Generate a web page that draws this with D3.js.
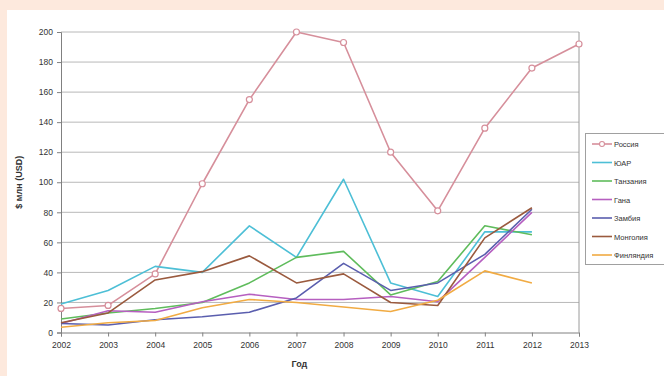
<!DOCTYPE html>
<html>
<head>
<meta charset="utf-8">
<script src="https://cdn.jsdelivr.net/npm/d3@7"></script>
<style>
  html, body { margin: 0; padding: 0; background: #fde9dd; }
  svg { display: block; }
  text { font-family: "Liberation Sans", Arial, sans-serif; fill: #333; }
</style>
</head>
<body>
<svg id="chart" width="664" height="376"></svg>
<script>
// Years on the category axis
const years = [2002, 2003, 2004, 2005, 2006, 2007, 2008, 2009, 2010, 2011, 2012, 2013];
const yTicks = [0, 20, 40, 60, 80, 100, 120, 140, 160, 180, 200];

// Series values, $ млн (USD); null = no data
const russia    = [16, 18, 39, 99, 155, 200, 193, 120, 81, 136, 176, 192];
const southAfr  = [19, 28, 44, 40, 71, 50, 102, 33, 24, 67, 67, null];
const tanzania  = [9, 13, 16, 20, 33, 50, 54, 25, 34, 71, 65, null];
const ghana     = [6, 14.5, 13.5, 20.5, 25.5, 22, 22, 24, 20.5, 50, 80, null];
const zambia    = [6, 5, 8.5, 10.5, 13.5, 23, 46, 28, 33, 52, 82, null];
const mongolia  = [6.5, 13, 35, 40.5, 51, 33, 39, 20, 18, 63, 83, null];
const finland   = [3.5, 6.5, 8, 16.5, 22, 20, 17, 14, 21.5, 41, 33, null];

const seriesNames  = ["Россия", "ЮАР", "Танзания", "Гана", "Замбия", "Монголия", "Финляндия"];
const seriesValues = [russia, southAfr, tanzania, ghana, zambia, mongolia, finland];
const seriesColors = ["#d68f9b", "#4dbfd6", "#5fbc5c", "#b65fc0", "#5a5eae", "#9a5a3e", "#f1ab43"];

const svg = d3.select("#chart");

// white panel
svg.append("rect").attr("x", 7).attr("y", 10).attr("width", 657).attr("height", 366).attr("fill", "#ffffff");

const plotLeft = 61, plotRight = 579, plotTop = 32, plotBottom = 332.5;

const x = d3.scalePoint().domain(years).range([plotLeft, plotRight]);
const y = d3.scaleLinear().domain([0, 200]).range([plotBottom, plotTop]);

// horizontal gridlines
svg.append("g")
  .selectAll("line")
  .data(yTicks.filter(d => d > 0))
  .join("line")
  .attr("x1", plotLeft).attr("x2", plotRight)
  .attr("y1", d => y(d)).attr("y2", d => y(d))
  .attr("stroke", "#b8b8b8").attr("stroke-width", 1);

// right frame edge
svg.append("line")
  .attr("x1", plotRight).attr("x2", plotRight).attr("y1", plotTop).attr("y2", plotBottom)
  .attr("stroke", "#9a9a9a").attr("stroke-width", 1);

// y axis
const yAxis = svg.append("g")
  .attr("transform", `translate(${plotLeft},0)`)
  .call(d3.axisLeft(y).tickValues(yTicks).tickSize(4).tickPadding(4));
yAxis.select(".domain").attr("stroke", "#808080");
yAxis.selectAll(".tick line").attr("stroke", "#808080");
yAxis.selectAll(".tick text").attr("font-size", 8.5).attr("fill", "#333");

// x axis
const xAxis = svg.append("g")
  .attr("transform", `translate(0,${plotBottom})`)
  .call(d3.axisBottom(x).tickSize(4).tickPadding(5));
xAxis.select(".domain").attr("stroke", "#808080");
xAxis.selectAll(".tick line").attr("stroke", "#808080");
xAxis.selectAll(".tick text").attr("font-size", 8.5).attr("fill", "#333");

// axis titles
svg.append("text")
  .attr("x", x(2007) + 3).attr("y", 367)
  .attr("text-anchor", "middle")
  .attr("font-size", 9).attr("font-weight", "bold")
  .text("Год");

svg.append("text")
  .attr("transform", `translate(22,${(plotTop + plotBottom) / 2}) rotate(-90)`)
  .attr("text-anchor", "middle")
  .attr("font-size", 9).attr("font-weight", "bold")
  .text("$ млн (USD)");

// series lines
const line = d3.line()
  .defined(d => d.v !== null)
  .x(d => x(d.year))
  .y(d => y(d.v));

const lines = svg.append("g");
seriesValues.forEach((vals, i) => {
  const pts = vals.map((v, j) => ({ year: years[j], v }));
  lines.append("path")
    .datum(pts)
    .attr("d", line)
    .attr("fill", "none")
    .attr("stroke", seriesColors[i])
    .attr("stroke-width", 1.6)
    .attr("stroke-linejoin", "round");
});

// circle markers for Россия
svg.append("g")
  .selectAll("circle")
  .data(russia.map((v, j) => ({ year: years[j], v })).filter(d => d.v !== null))
  .join("circle")
  .attr("cx", d => x(d.year)).attr("cy", d => y(d.v))
  .attr("r", 3)
  .attr("fill", "#ffffff")
  .attr("stroke", seriesColors[0])
  .attr("stroke-width", 1.2);

// legend
const lg = svg.append("g");
lg.append("rect")
  .attr("x", 585.5).attr("y", 133.5).attr("width", 90).attr("height", 131)
  .attr("fill", "#fff").attr("stroke", "#a0a0a0").attr("stroke-width", 1);

seriesNames.forEach((name, i) => {
  const yy = 144 + i * 18.5;
  lg.append("line")
    .attr("x1", 592).attr("x2", 612).attr("y1", yy).attr("y2", yy)
    .attr("stroke", seriesColors[i]).attr("stroke-width", 1.6);
  if (i === 0) {
    lg.append("circle").attr("cx", 602).attr("cy", yy).attr("r", 2.5)
      .attr("fill", "#fff").attr("stroke", seriesColors[0]).attr("stroke-width", 1.1);
  }
  lg.append("text")
    .attr("x", 614).attr("y", yy + 3)
    .attr("font-size", 7.5)
    .text(name);
});
</script>
</body>
</html>
